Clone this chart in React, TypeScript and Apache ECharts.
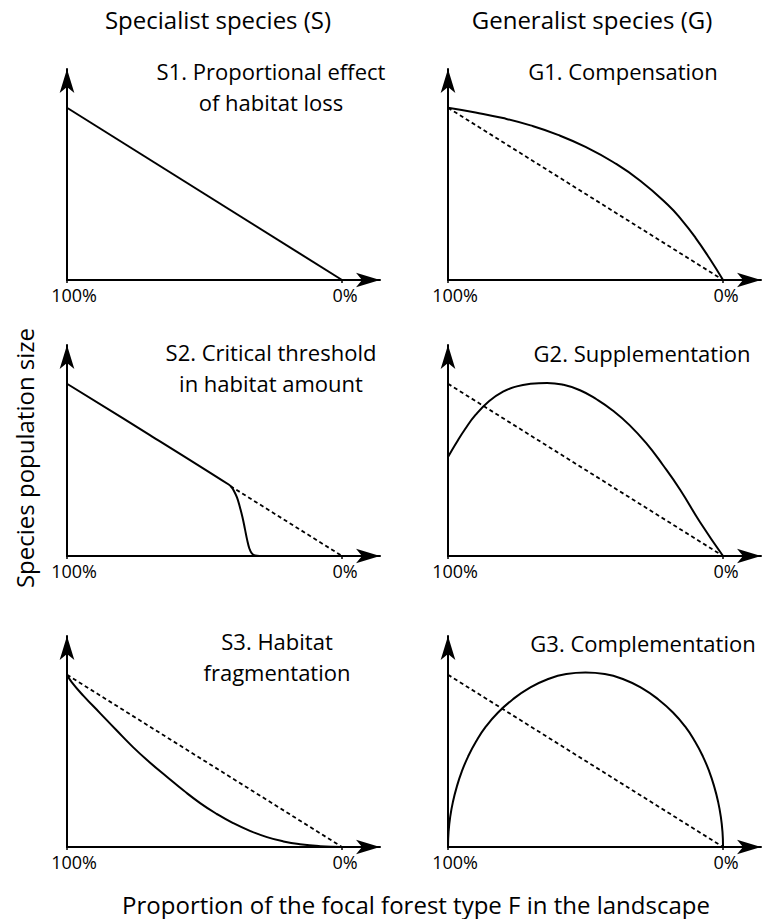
import React, { useEffect, useRef } from 'react';
import * as echarts from 'echarts';

// ---- Data (x = proportion of focal forest type F in %, y = relative population size) ----
const xTickValues = [100, 0];
const xTickLabels = ['100%', '0%'];

const columnHeaders = ['Specialist species (S)', 'Generalist species (G)'];
const panelTitles: string[][] = [
  ['S1. Proportional effect', 'of habitat loss'],
  ['G1. Compensation'],
  ['S2. Critical threshold', 'in habitat amount'],
  ['G2. Supplementation'],
  ['S3. Habitat', 'fragmentation'],
  ['G3. Complementation'],
];
const yAxisTitle = 'Species population size';
const xAxisTitle = 'Proportion of the focal forest type F in the landscape';

const proportionalLine: number[][] = [[100, 80], [0, 0]];

const s1Curve: number[][] = [[100, 80], [0, 0]];

const g1Curve: number[][] = [
  [100, 80], [90, 77.8], [80, 75.2], [70, 71.8], [60, 67.4], [50, 61.8],
  [40, 54.8], [30, 46], [20, 34.8], [15, 27.8], [10, 19.6], [5, 10.2], [0, 0],
];

const s2Curve: number[][] = [
  [100, 80], [70, 56.3], [41.2, 33.2], [40.2, 32], [39.2, 30], [38.2, 27.2],
  [37.2, 23], [36.2, 18], [35.3, 12.5], [34.5, 7.5], [33.7, 3.5], [32.8, 1.2],
  [31.6, 0.2], [30, 0], [0, 0],
];
const s2Reference: number[][] = [[40.6, 32.5], [0, 0]];

const g2Curve: number[][] = [
  [100, 46], [97, 52.5], [94, 58.5], [90, 65.5], [85, 72], [80, 76.3],
  [75, 78.8], [70, 80], [64, 80.4], [58, 79.5], [52, 77], [46, 72.8],
  [40, 67.5], [34, 60.8], [28, 52.5], [22, 42.5], [15.6, 30.8], [8.4, 15.8],
  [0, 0],
];

const s3Curve: number[][] = [
  [100, 80], [98.3, 76.6], [94, 70.2], [88, 62.2], [82, 54.2], [76, 46.4],
  [70, 39.4], [63.6, 32.5], [57.6, 26.2], [51.6, 20.4], [45.6, 15.4],
  [39.6, 11.1], [33.5, 7.5], [27.3, 4.6], [21.3, 2.6], [15.3, 1.3], [8, 0.4], [0, 0],
];

const g3Curve: number[][] = [
  [100, 0], [99.8, 7], [99.2, 14], [98.2, 21], [96.8, 28], [95, 35], [92.7, 42],
  [89.8, 49], [86.2, 56], [81.8, 62.5], [76.5, 68.5], [70.5, 73.8], [64, 77.8],
  [57, 80.3], [50, 81], [43, 80.3], [36, 77.8], [29.5, 73.8], [23.5, 68.5],
  [18.2, 62.5], [13.8, 56], [10.2, 49], [7.3, 42], [5, 35], [3.2, 28],
  [1.8, 21], [0.8, 14], [0.2, 7], [0, 0],
];

const solidCurves = [s1Curve, g1Curve, s2Curve, g2Curve, s3Curve, g3Curve];
const dashedCurves = [null, proportionalLine, s2Reference, proportionalLine, proportionalLine, proportionalLine];
const smoothAmounts: (number | false)[] = [false, 0.5, 0.4, 0.5, 0.5, 0.5];

// ---- Layout ----
const FONT = "'Open Sans', 'Noto Sans', sans-serif";
const colLeft = [67, 448];
const rowTop = [69, 345, 636];
const GRID_W = 313;
const GRID_H = 211;
const X_MAX = 113.8; // axis runs past 0% to the arrow
const Y_MAX = 98;
const titleFirstLine = [
  [271, 71], [623, 71],
  [271, 352], [642, 353],
  [277, 641], [643, 643],
];
const TITLE_LINE_GAP = 30.5;

const toXY = (pts: number[][]) => pts.map(([f, y]) => [100 - f, y]);

function buildOption(): echarts.EChartsOption {
  const grid: any[] = [];
  const xAxis: any[] = [];
  const yAxis: any[] = [];
  const series: any[] = [];
  const graphic: any[] = [];

  for (let i = 0; i < 6; i++) {
    const col = i % 2;
    const row = Math.floor(i / 2);
    grid.push({ left: colLeft[col], top: rowTop[row], width: GRID_W, height: GRID_H, containLabel: false });
    xAxis.push({
      gridIndex: i,
      type: 'value',
      min: 0,
      max: X_MAX,
      axisLine: {
        show: true,
        symbol: ['none', 'arrow'],
        symbolSize: [11, 24],
        lineStyle: { color: '#000', width: 2 },
      },
      axisTick: {
        show: true,
        customValues: xTickValues.map((v) => 100 - v),
        length: 3,
        lineStyle: { color: '#000', width: 1.5 },
      },
      axisLabel: {
        show: true,
        customValues: xTickValues.map((v) => 100 - v),
        showMinLabel: true,
        showMaxLabel: true,
        margin: 6,
        formatter: (v: number) => {
          const idx = xTickValues.indexOf(100 - v);
          const txt = idx >= 0 ? xTickLabels[idx] : '';
          return idx === 0 ? '{a|' + txt + '}' : '{b|' + txt + '}';
        },
        rich: {
          a: { fontFamily: FONT, fontSize: 18, color: '#000', padding: [0, 0, 0, 14] },
          b: { fontFamily: FONT, fontSize: 18, color: '#000', padding: [0, 0, 0, 6] },
        },
      },
      splitLine: { show: false },
    });
    yAxis.push({
      gridIndex: i,
      type: 'value',
      min: 0,
      max: Y_MAX,
      axisLine: {
        show: true,
        symbol: ['none', 'arrow'],
        symbolSize: [11, 24],
        lineStyle: { color: '#000', width: 2 },
      },
      axisTick: { show: false },
      axisLabel: { show: false },
      splitLine: { show: false },
    });
    const dashed = dashedCurves[i];
    if (dashed) {
      series.push({
        type: 'line',
        xAxisIndex: i,
        yAxisIndex: i,
        data: toXY(dashed),
        showSymbol: false,
        symbol: 'none',
        smooth: false,
        silent: true,
        clip: false,
        lineStyle: { color: '#000', width: 1.8, type: [4, 3] },
        z: 2,
      });
    }
    series.push({
      type: 'line',
      xAxisIndex: i,
      yAxisIndex: i,
      data: toXY(solidCurves[i]),
      showSymbol: false,
      symbol: 'none',
      smooth: smoothAmounts[i],
      silent: true,
      clip: false,
      lineStyle: { color: '#000', width: 2 },
      z: 3,
    });
    panelTitles[i].forEach((line, k) => {
      graphic.push({
        type: 'text',
        x: titleFirstLine[i][0],
        y: titleFirstLine[i][1] + k * TITLE_LINE_GAP,
        style: {
          text: line,
          fontFamily: FONT,
          fontSize: 22,
          fill: '#000',
          align: 'center',
          verticalAlign: 'middle',
        },
      });
    });
  }

  graphic.push(
    {
      type: 'text', x: 218, y: 19,
      style: { text: columnHeaders[0], fontFamily: FONT, fontSize: 24, fill: '#000', align: 'center', verticalAlign: 'middle' },
    },
    {
      type: 'text', x: 592, y: 19,
      style: { text: columnHeaders[1], fontFamily: FONT, fontSize: 24, fill: '#000', align: 'center', verticalAlign: 'middle' },
    },
    {
      type: 'text', x: 24, y: 458, rotation: Math.PI / 2,
      style: { text: yAxisTitle, fontFamily: FONT, fontSize: 24, fill: '#000', align: 'center', verticalAlign: 'middle' },
    },
    {
      type: 'text', x: 416, y: 904,
      style: { text: xAxisTitle, fontFamily: FONT, fontSize: 24, fill: '#000', align: 'center', verticalAlign: 'middle' },
    }
  );

  return {
    animation: false,
    backgroundColor: '#fff',
    grid,
    xAxis,
    yAxis,
    series,
    graphic,
  } as any;
}

export default function App() {
  const ref = useRef<HTMLDivElement>(null);
  useEffect(() => {
    if (!ref.current) return;
    const chart = echarts.init(ref.current, undefined, { renderer: 'svg' });
    chart.setOption(buildOption());
    return () => chart.dispose();
  }, []);
  return (
    <div
      ref={ref}
      style={{ position: 'absolute', left: 0, top: 0, width: 769, height: 919, background: '#fff' }}
    />
  );
}
